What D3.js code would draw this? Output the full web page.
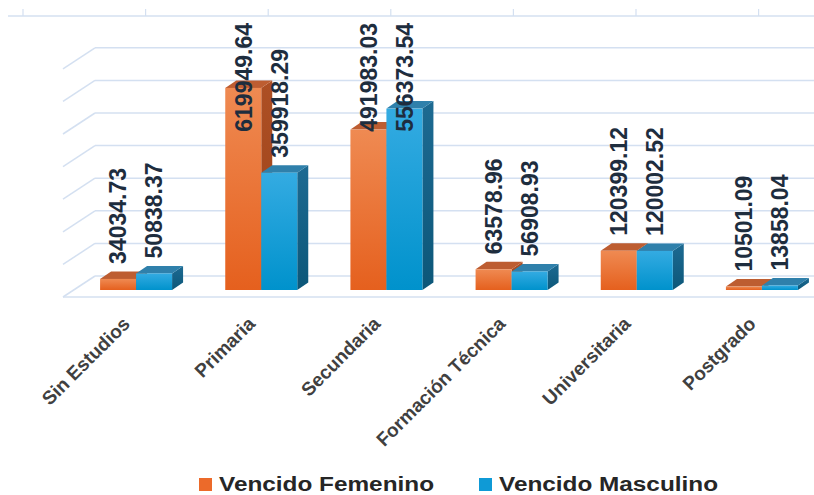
<!DOCTYPE html>
<html>
<head>
<meta charset="utf-8">
<script src="https://cdn.jsdelivr.net/npm/d3@7"></script>
<style>
  html, body { margin: 0; padding: 0; background: #ffffff; }
  svg { display: block; }
</style>
</head>
<body>
<svg id="chart" width="814" height="495"></svg>
<script>
// ---- data ----
const categories = ["Sin Estudios", "Primaria", "Secundaria", "Formación Técnica", "Universitaria", "Postgrado"];
const seriesNames = ["Vencido Femenino", "Vencido Masculino"];
const femenino = [34034.73, 619949.64, 491983.03, 63578.96, 120399.12, 10501.09];
const masculino = [50838.37, 359918.29, 556373.54, 56908.93, 120002.52, 13858.04];
const valueTicks = [0, 100000, 200000, 300000, 400000, 500000, 600000, 700000];

const seriesValues = [femenino, masculino];

// ---- layout ----
const W = 814, H = 495;
const svg = d3.select("#chart");

const x0 = d3.scaleBand().domain(categories).range([73.5, 824.5]).padding(0);
const x1 = d3.scaleBand().domain(seriesNames).range([-36, 36]).padding(0);
const y = d3.scaleLinear().domain([0, 700000]).range([290, 61.8]);

const wallDx = 32, wallDy = 21;      // depth of floor/walls
const backShift = 14;                // back wall above bar base
const barDx = 11, barDy = 7.5;       // bar depth
const gridColor = "#d4e0f1";

// ---- defs (gradients) ----
const defs = svg.append("defs");
function vGrad(id, c0, c1) {
  const g = defs.append("linearGradient").attr("id", id)
    .attr("x1", 0).attr("y1", 0).attr("x2", 0).attr("y2", 1);
  g.append("stop").attr("offset", "0%").attr("stop-color", c0);
  g.append("stop").attr("offset", "100%").attr("stop-color", c1);
}
vGrad("gOrange", "#ef8a52", "#e5601e");
vGrad("gBlue", "#34abe2", "#0092cc");
vGrad("gOrangeSide", "#ad4f24", "#9c4219");
vGrad("gBlueSide", "#1d6a92", "#0c5779");

const fills = [
  { front: "url(#gOrange)", top: "#bd5d31", side: "url(#gOrangeSide)" },
  { front: "url(#gBlue)", top: "#2f80ab", side: "url(#gBlueSide)" }
];

// ---- decorative top rule ----
const topG = svg.append("g");
topG.append("line").attr("x1", 8).attr("x2", W).attr("y1", 16).attr("y2", 16)
  .attr("stroke", gridColor).attr("stroke-width", 1.5);
topG.selectAll("line.tk").data(d3.range(7)).join("line").attr("class", "tk")
  .attr("x1", d => 23 + d * 122.6).attr("x2", d => 23 + d * 122.6)
  .attr("y1", 9).attr("y2", 16)
  .attr("stroke", gridColor).attr("stroke-width", 1.2);

// ---- walls / grid ----
const grid = svg.append("g");
const leftFront = 63, leftBack = leftFront + wallDx;
grid.selectAll("line.back").data(valueTicks).join("line").attr("class", "back")
  .attr("x1", leftBack).attr("x2", W)
  .attr("y1", d => y(d) - backShift).attr("y2", d => y(d) - backShift)
  .attr("stroke", gridColor).attr("stroke-width", 1.5);
grid.selectAll("line.side").data(valueTicks).join("line").attr("class", "side")
  .attr("x1", leftFront).attr("x2", leftBack)
  .attr("y1", d => y(d) - backShift + wallDy).attr("y2", d => y(d) - backShift)
  .attr("stroke", gridColor).attr("stroke-width", 1.5);
// floor front edge
grid.append("line")
  .attr("x1", leftFront).attr("x2", W)
  .attr("y1", y(0) - backShift + wallDy).attr("y2", y(0) - backShift + wallDy)
  .attr("stroke", gridColor).attr("stroke-width", 1.5);

// ---- bars ----
const base = y(0);
const barsG = svg.append("g");
categories.forEach((cat, ci) => {
  seriesNames.forEach((sn, si) => {
    const v = seriesValues[si][ci];
    const bx = x0(cat) + x0.bandwidth() / 2 + x1(sn);
    const bw = x1.bandwidth();
    const yt = y(v);
    const f = fills[si];
    const g = barsG.append("g");
    g.append("polygon")
      .attr("points", [[bx + bw, yt], [bx + bw + barDx, yt - barDy], [bx + bw + barDx, base - barDy], [bx + bw, base]].map(p => p.join(",")).join(" "))
      .attr("fill", f.side);
    g.append("polygon")
      .attr("points", [[bx, yt], [bx + barDx, yt - barDy], [bx + bw + barDx, yt - barDy], [bx + bw, yt]].map(p => p.join(",")).join(" "))
      .attr("fill", f.top);
    g.append("rect")
      .attr("x", bx).attr("y", yt).attr("width", bw).attr("height", Math.max(0.5, base - yt))
      .attr("fill", f.front);
  });
});

// ---- data labels ----
const labG = svg.append("g");
categories.forEach((cat, ci) => {
  seriesNames.forEach((sn, si) => {
    const v = seriesValues[si][ci];
    const cx = x0(cat) + x0.bandwidth() / 2 + x1(sn) + x1.bandwidth() / 2;
    const t = labG.append("text")
      .text(v.toFixed(2))
      .attr("font-family", "'Liberation Sans', Arial, sans-serif")
      .attr("font-weight", "bold")
      .attr("font-size", 23)
      .attr("fill", "#1e2d3e")
      .attr("text-anchor", "start")
      .attr("dy", "0.36em");
    const len = t.node().getComputedTextLength();
    const bottom = Math.max(y(v) - 15, 23 + len);
    t.attr("transform", `translate(${cx},${bottom}) rotate(-90)`);
  });
});

// ---- category labels ----
const catG = svg.append("g");
catG.selectAll("text").data(categories).join("text")
  .text(d => d)
  .attr("transform", d => `translate(${x0(d) + x0.bandwidth() / 2 - 5},325) rotate(-45)`)
  .attr("text-anchor", "end")
  .attr("font-family", "'Liberation Sans', Arial, sans-serif")
  .attr("font-weight", "bold")
  .attr("font-size", 19)
  .attr("fill", "#404040");

// ---- legend ----
const legend = svg.append("g");
const legendX = [199, 479];
const legendColors = ["#ec6a2a", "#0f9ad6"];
const legendLen = [215, 219];
seriesNames.forEach((sn, i) => {
  legend.append("rect").attr("x", legendX[i]).attr("y", 478).attr("width", 13).attr("height", 13)
    .attr("fill", legendColors[i]);
  legend.append("text").text(sn)
    .attr("x", legendX[i] + 20).attr("y", 491)
    .attr("font-family", "'Liberation Sans', Arial, sans-serif")
    .attr("font-weight", "bold")
    .attr("font-size", 20)
    .attr("fill", "#262626")
    .attr("textLength", legendLen[i])
    .attr("lengthAdjust", "spacingAndGlyphs");
});
</script>
</body>
</html>
